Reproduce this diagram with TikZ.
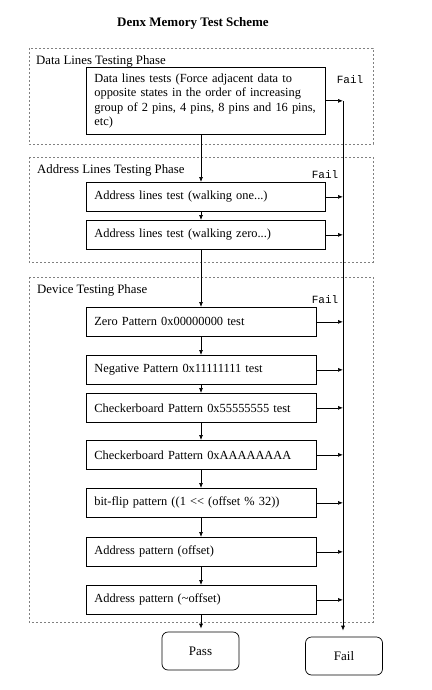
\documentclass[tikz,border=0pt]{standalone}
\usepackage{fontspec}
\setmainfont{Liberation Serif}
\newfontfamily\failfont{Liberation Mono}
\usetikzlibrary{arrows.meta}

\begin{document}
\begin{tikzpicture}[x=1pt,y=-1pt,
  testbox/.style={draw, line width=0.7pt, anchor=north west, inner xsep=8pt, align=left, minimum height=29pt, font=\fontsize{12.4}{14.5}\selectfont},
  endbox/.style={draw, line width=0.7pt, rounded corners=6pt, minimum width=77pt, minimum height=38pt, font=\fontsize{13}{15}\selectfont},
  phase/.style={draw=gray, line width=0.6pt, dash pattern=on 2pt off 2pt},
  phasetitle/.style={anchor=west, inner sep=0pt, font=\fontsize{12.8}{15}\selectfont},
  faillabel/.style={inner sep=0pt, font=\failfont\fontsize{11}{12}\selectfont},
  flow/.style={line width=0.7pt, -{Latex[length=5pt,width=4pt]}}
]
\useasboundingbox (0,0) rectangle (431,690);

% Title
\node[font=\bfseries\fontsize{13}{15}\selectfont] (title) at (193,23) {Denx Memory Test Scheme};

% Phase frames
\draw[phase] (29,48) rectangle (373,144);
\node[phasetitle] (dataphase) at (36,61) {Data Lines Testing Phase};
\draw[phase] (29,157) rectangle (373,262);
\node[phasetitle] (addrphase) at (37,170) {Address Lines Testing Phase};
\draw[phase] (29,277) rectangle (373,622);
\node[phasetitle] (devphase) at (37,290) {Device Testing Phase};

% Fail labels
\node[faillabel] (faildata) at (350,80) {Fail};
\node[faillabel] (failaddr) at (325,175) {Fail};
\node[faillabel] (faildev) at (325,300) {Fail};

% Test boxes
\node[testbox, text width=223pt, minimum height=67pt] (data) at (86,67) {Data lines tests (Force adjacent data to\\opposite states in the order of increasing\\group of 2 pins, 4 pins, 8 pins and 16 pins,\\etc)};
\node[testbox, text width=223pt] (walkone) at (86,182) {Address lines test (walking one...)};
\node[testbox, text width=223pt] (walkzero) at (86,220) {Address lines test (walking zero...)};
\node[testbox, text width=214pt] (zero) at (86,307) {Zero Pattern 0x00000000 test};
\node[testbox, text width=214pt] (negative) at (86,355) {Negative Pattern 0x11111111 test};
\node[testbox, text width=214pt] (checkfive) at (86,393) {Checkerboard Pattern 0x55555555 test};
\node[testbox, text width=214pt] (checka) at (86,440) {Checkerboard Pattern 0xAAAAAAAA};
\node[testbox, text width=214pt] (bitflip) at (86,488) {bit-flip pattern ((1 <\kern0pt< (offset \% 32))};
\node[testbox, text width=214pt] (addroff) at (86,537) {Address pattern (offset)};
\node[testbox, text width=214pt] (addrnot) at (86,585) {Address pattern (\char`\~offset)};

% End boxes
\node[endbox] (pass) at (200.5,651) {Pass};
\node[endbox] (fail) at (344,656) {Fail};

% Main flow
\coordinate (flowx) at (201,0);
\draw[flow] (data.south -| flowx) -- (walkone.north -| flowx);
\draw[flow] (walkone.south -| flowx) -- (walkzero.north -| flowx);
\draw[flow] (walkzero.south -| flowx) -- (zero.north -| flowx);
\draw[flow] (zero.south -| flowx) -- (negative.north -| flowx);
\draw[flow] (negative.south -| flowx) -- (checkfive.north -| flowx);
\draw[flow] (checkfive.south -| flowx) -- (checka.north -| flowx);
\draw[flow] (checka.south -| flowx) -- (bitflip.north -| flowx);
\draw[flow] (bitflip.south -| flowx) -- (addroff.north -| flowx);
\draw[flow] (addroff.south -| flowx) -- (addrnot.north -| flowx);
\draw[flow, shorten >=3pt] (addrnot.south -| flowx) -- (pass.north -| flowx);

% Fail bus
\coordinate (bustop) at (343,101);
\foreach \t in {data,walkone,walkzero,zero,negative,checkfive,checka,bitflip,addroff,addrnot}
  \draw[flow] (\t.east) -- (\t.east -| bustop);
\draw[flow, shorten >=6pt] (bustop) -- (bustop |- fail.north);
\end{tikzpicture}
\end{document}
